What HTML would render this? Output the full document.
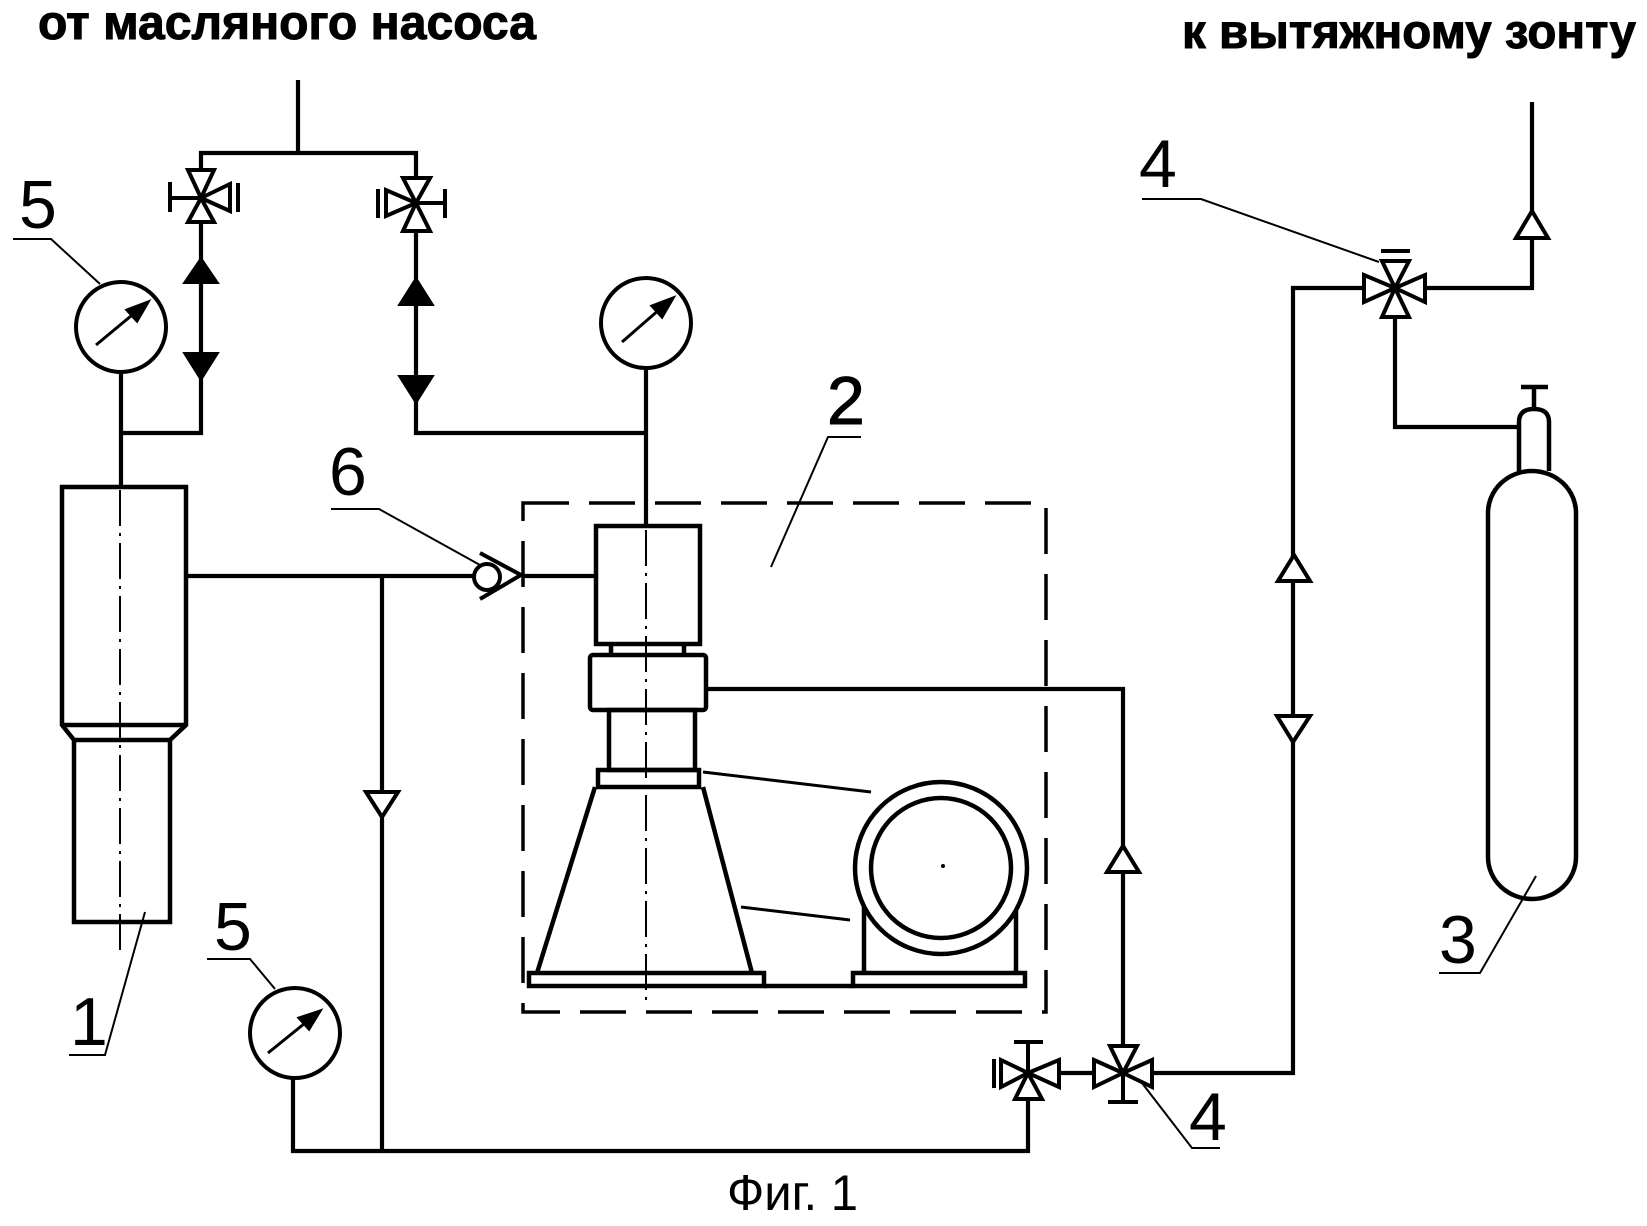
<!DOCTYPE html>
<html><head><meta charset="utf-8"><style>
html,body{margin:0;padding:0;background:#fff;}
svg{display:block;}
</style></head><body>
<svg width="1647" height="1226" viewBox="0 0 1647 1226" xmlns="http://www.w3.org/2000/svg">
<rect width="1647" height="1226" fill="#fff"/>
<g font-family="Liberation Sans, Arial, sans-serif" fill="#000">
<text x="38" y="39" font-size="48" font-weight="bold" stroke="#000" stroke-width="1" textLength="498" lengthAdjust="spacingAndGlyphs">от масляного насоса</text>
<text x="1182" y="48" font-size="48" font-weight="bold" stroke="#000" stroke-width="1" textLength="454" lengthAdjust="spacingAndGlyphs">к вытяжному зонту</text>
<text x="19" y="228" font-size="68">5</text>
<text x="329" y="495" font-size="68">6</text>
<text x="70" y="1045" font-size="68">1</text>
<text x="214" y="950" font-size="68">5</text>
<text x="827" y="424" font-size="68" stroke="#000" stroke-width="1">2</text>
<text x="1139" y="187" font-size="68">4</text>
<text x="1189" y="1140" font-size="68">4</text>
<text x="1439" y="963" font-size="68">3</text>
<text x="727" y="1210" font-size="50" textLength="131" lengthAdjust="spacingAndGlyphs">Фиг. 1</text>
</g>

<!-- leaders -->
<g fill="none" stroke="#000" stroke-width="2">
<polyline points="13,239 51,239 100,284"/>
<polyline points="331,509 379,509 480,565"/>
<polyline points="69,1055 105,1055 145,912"/>
<polyline points="207,959 250,959 275,989"/>
<polyline points="861,437 828,437 771,567"/>
<polyline points="1142,199 1201,199 1379,262"/>
<polyline points="1142,1083 1192,1148 1220,1148"/>
<polyline points="1536,876 1480,973 1439,973"/>
<line x1="703" y1="772" x2="871" y2="792" stroke-width="3"/>
<line x1="741" y1="907" x2="850" y2="920" stroke-width="3"/>
</g>

<!-- centerlines -->
<g fill="none" stroke="#000" stroke-width="2" stroke-dasharray="36 7 3 7">
<line x1="120" y1="490" x2="120" y2="955"/>
<line x1="646" y1="530" x2="646" y2="1001"/>
</g>

<!-- dashed box -->
<rect x="523" y="503" width="523" height="509" fill="none" stroke="#000" stroke-width="3.5" stroke-dasharray="46 20"/>

<!-- pipes -->
<g fill="none" stroke="#000" stroke-width="4.2" stroke-linejoin="miter">
<line x1="298" y1="80" x2="298" y2="153"/>
<polyline points="201,170 201,153 416,153 416,178"/>
<polyline points="201,222 201,433 121,433"/>
<polyline points="416,233 416,433 646,433"/>
<line x1="121" y1="370" x2="121" y2="487"/>
<line x1="646" y1="368" x2="646" y2="526"/>
<line x1="186" y1="576" x2="474" y2="576"/>
<line x1="522" y1="576" x2="596" y2="576"/>
<line x1="382" y1="576" x2="382" y2="1151"/>
<polyline points="293,1078 293,1151 1028,1151 1028,1100"/>
<polyline points="706,689 1123,689 1123,1045"/>
<line x1="1060" y1="1073" x2="1093" y2="1073"/>
<polyline points="1153,1073 1293,1073 1293,288 1363,288"/>
<polyline points="1426,288 1532,288 1532,102"/>
<polyline points="1395,318 1395,427 1519,427"/>
</g>

<!-- manometers -->
<g fill="none" stroke="#000" stroke-width="4">
<circle cx="121" cy="327" r="45"/>
<circle cx="646" cy="323" r="45"/>
<circle cx="295" cy="1033" r="45"/>
</g>
<g stroke="#000" stroke-width="3" fill="#000">
<line x1="96" y1="345" x2="143" y2="306"/>
<polygon points="148,302 127,310 137,321"/>
<line x1="622" y1="342" x2="668" y2="302"/>
<polygon points="673,298 652,306 662,317"/>
<line x1="268" y1="1053" x2="315" y2="1015"/>
<polygon points="320,1011 299,1018 309,1029"/>
</g>

<!-- element 1 -->
<g fill="none" stroke="#000" stroke-width="4.5" stroke-linejoin="miter">
<path d="M62,487 H186 V725 L170,740 V922 H74 V740 L62,725 Z"/>
<line x1="62" y1="725" x2="186" y2="725"/>
<line x1="74" y1="740" x2="170" y2="740"/>
</g>

<!-- check valve 6 -->
<circle cx="487" cy="577" r="13" fill="#fff" stroke="#000" stroke-width="4"/>
<polyline points="480,553 521,575 480,599" fill="none" stroke="#000" stroke-width="4"/>

<!-- element 2 internals -->
<g fill="none" stroke="#000" stroke-width="4.5">
<rect x="596" y="526" width="104" height="118"/>
<line x1="611" y1="644" x2="611" y2="655"/>
<line x1="684" y1="644" x2="684" y2="655"/>
<rect x="590" y="655" width="116" height="55" rx="3"/>
<rect x="609" y="710" width="86" height="60"/>
<rect x="598" y="770" width="101" height="17"/>
<polyline points="595,787 537,973"/>
<polyline points="703,787 752,973"/>
<rect x="529" y="973" width="235" height="13"/>
<line x1="764" y1="986" x2="853" y2="986"/>
<rect x="853" y="973" width="172" height="13"/>
<line x1="864" y1="900" x2="864" y2="973"/>
<line x1="1016" y1="900" x2="1016" y2="973"/>
<circle cx="941" cy="868" r="86" fill="#fff"/>
<circle cx="941" cy="868" r="70"/>
</g>
<circle cx="943" cy="866" r="2" fill="#000"/>

<!-- flow arrows filled -->
<g fill="#000" stroke="#000" stroke-width="2">
<polygon points="201,258 184,283 218,283"/>
<polygon points="184,353 218,353 201,380"/>
<polygon points="416,278 399,305 433,305"/>
<polygon points="399,376 433,376 416,403"/>
</g>
<!-- flow arrows open -->
<g fill="#fff" stroke="#000" stroke-width="4" stroke-linejoin="miter">
<polygon points="366,792 398,792 382,817"/>
<polygon points="1107,872 1139,872 1123,846"/>
<polygon points="1278,581 1310,581 1294,555"/>
<polygon points="1277,716 1310,716 1293,742"/>
<polygon points="1516,238 1548,238 1532,211"/>
</g>

<!-- valves -->
<g fill="#fff" stroke="#000" stroke-width="4" stroke-linejoin="miter">
<polygon points="188,170 214,170 201,198"/>
<polygon points="188,222 214,222 201,198"/>
<polygon points="230,184 230,211 201,198"/>
<polygon points="403,178 430,178 416,203"/>
<polygon points="403,231 430,231 416,203"/>
<polygon points="386,190 386,216 416,203"/>
<polygon points="1001,1060 1001,1087 1028,1073"/>
<polygon points="1059,1060 1059,1087 1028,1073"/>
<polygon points="1015,1099 1042,1099 1028,1073"/>
<polygon points="1094,1060 1094,1087 1123,1073"/>
<polygon points="1152,1060 1152,1087 1123,1073"/>
<polygon points="1110,1046 1137,1046 1123,1073"/>
<polygon points="1364,275 1364,302 1395,288"/>
<polygon points="1425,275 1425,302 1395,288"/>
<polygon points="1382,317 1409,317 1395,288"/>
<polygon points="1382,261 1409,261 1395,288"/>
</g>
<g fill="none" stroke="#000" stroke-width="4">
<line x1="201" y1="198" x2="170" y2="198"/>
<line x1="170" y1="182" x2="170" y2="212"/>
<line x1="238" y1="183" x2="238" y2="212"/>
<line x1="416" y1="203" x2="445" y2="203"/>
<line x1="445" y1="189" x2="445" y2="218"/>
<line x1="378" y1="189" x2="378" y2="218"/>
<line x1="1028" y1="1073" x2="1028" y2="1042"/>
<line x1="1014" y1="1042" x2="1043" y2="1042"/>
<line x1="994" y1="1059" x2="994" y2="1088"/>
<line x1="1123" y1="1073" x2="1123" y2="1102"/>
<line x1="1108" y1="1102" x2="1138" y2="1102"/>
<line x1="1381" y1="251" x2="1410" y2="251"/>
</g>

<!-- cylinder 3 -->
<g fill="none" stroke="#000" stroke-width="4.5">
<path d="M1519,471 V422 Q1519,409 1534,409 Q1549,409 1549,422 V471"/>
<line x1="1534" y1="409" x2="1534" y2="387"/>
<line x1="1521" y1="387" x2="1548" y2="387"/>
<rect x="1488" y="471" width="88" height="428" rx="44" ry="42"/>
</g>
</svg>
</body></html>
